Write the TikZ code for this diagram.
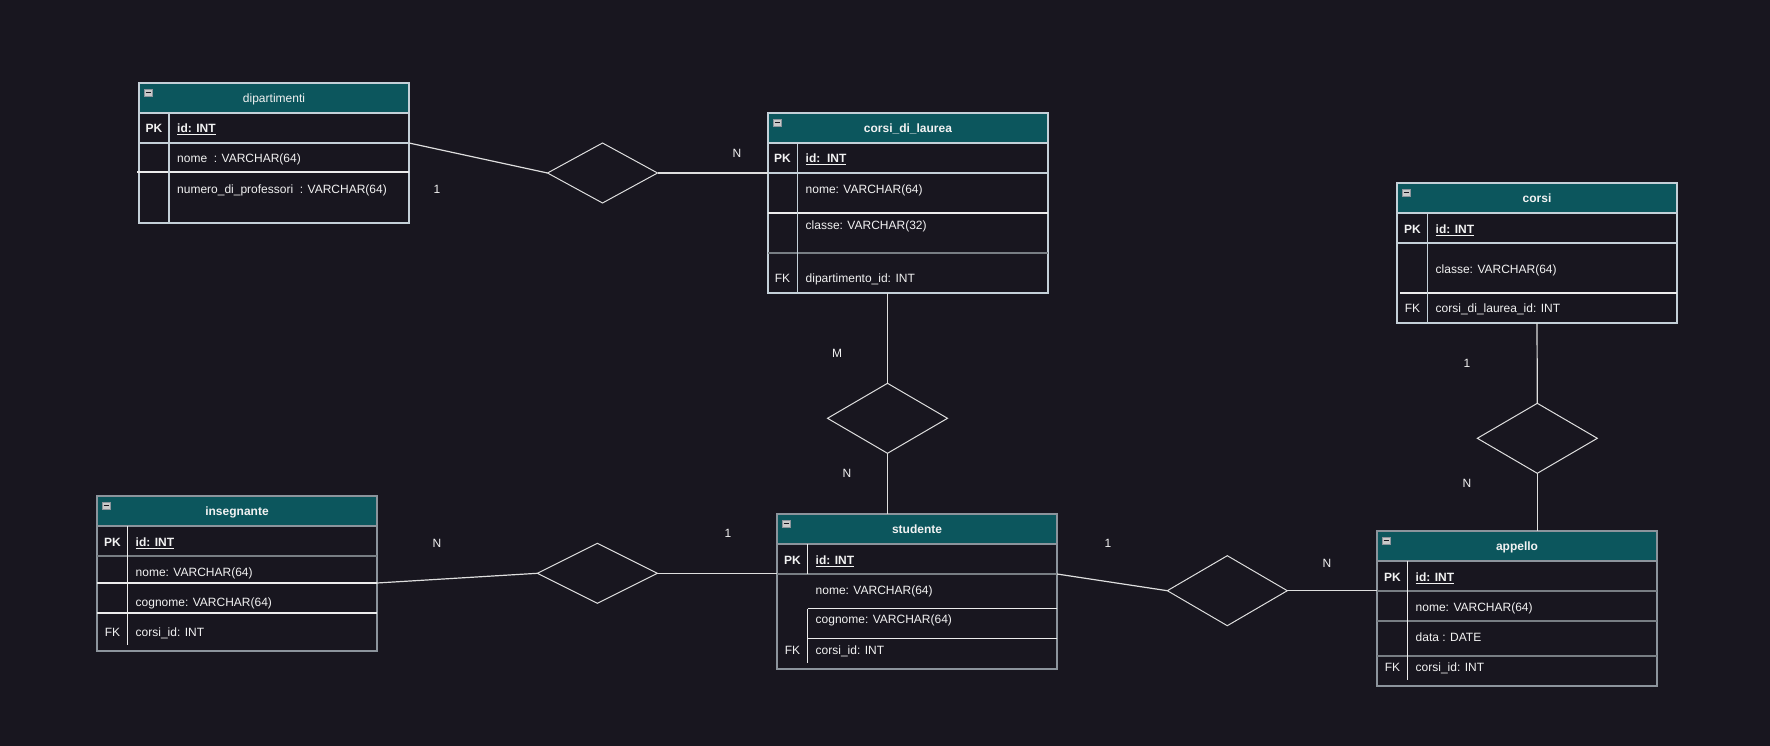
\documentclass[tikz,border=0pt]{standalone}
\usepackage{fontspec}
\setmainfont{Liberation Sans}
\usepackage{tikz}
\usetikzlibrary{calc,positioning,shapes.geometric}
\definecolor{erbg}{RGB}{24,22,31}
\definecolor{erteal}{RGB}{12,86,93}
\definecolor{eredge}{RGB}{196,208,216}
\definecolor{ergrid}{RGB}{140,148,156}
\definecolor{erwhite}{RGB}{236,236,236}
\definecolor{ergray}{RGB}{120,126,132}
\definecolor{erline}{RGB}{222,222,222}
\definecolor{ertext}{RGB}{242,242,242}

\begin{document}
\begin{tikzpicture}[x=1pt, y=-1pt,
      every node/.style={font=\fontsize{12}{14}\selectfont, text=ertext},
      hdr/.style={anchor=north west, minimum width=280pt, minimum height=30pt, inner sep=0pt, outer sep=0pt, fill=erteal, draw=eredge, line width=1.2pt, text height=8.6pt, text depth=0pt},
      tbl/.style={anchor=north west, minimum width=280pt, inner sep=0pt, outer sep=0pt, fill=erbg, draw=eredge, line width=1.2pt},
      key/.style={anchor=center, inner sep=0pt, text height=8.6pt, text depth=0pt},
      fld/.style={anchor=west, inner sep=0pt, text height=8.6pt, text depth=0pt},
      rel/.style={diamond, draw=erline, line width=1pt, minimum width=120pt, minimum height=70pt, inner sep=0pt, outer sep=0pt},
      link/.style={draw=erline, line width=1.2pt},
      sepl/.style={draw=eredge, line width=1.2pt},
      sepw/.style={draw=erwhite, line width=1.2pt},
      sepg/.style={draw=ergray, line width=2pt},
      mult/.style={inner sep=0pt, text height=8.6pt, text depth=0pt},
      iconbox/.style={fill=erwhite!85!black, draw=ergrid, line width=0.6pt},
      iconbar/.style={draw=erbg, line width=1.4pt}
    ]
      \fill[erbg] (0,0) rectangle (1770,746);
      \useasboundingbox (0,0) rectangle (1770,746);

      \node[hdr, minimum width=270pt] (dipH) at (139,83) {dipartimenti};
      \node[tbl, minimum width=270pt, minimum height=110pt] (dipB) at (dipH.south west) {};
      \draw[sepl] (139,143) -- (409,143);
      \draw[sepw] (137,172) -- (409,172);
      \draw[sepl] (169,113) -- (169,223);
      \node[key] (dipK1) at (154,128) {\textbf{PK}};
      \node[fld] (dipF1) at (177,128) {\underline{\textbf{id: INT}}};
      \node[fld] (dipF2) at (177,158) {nome\ \ : VARCHAR(64)};
      \node[fld] (dipF3) at (177,189) {numero\_di\_professori\ \ : VARCHAR(64)};

      \node[hdr] (cdlH) at (768,113) {\textbf{corsi\_di\_laurea}};
      \node[tbl, minimum height=150pt] (cdlB) at (cdlH.south west) {};
      \draw[sepl] (768,173) -- (1048,173);
      \draw[sepw] (768,213) -- (1048,213);
      \draw[sepg] (768,253) -- (1048,253);
      \draw[sepl] (797.5,143) -- (797.5,293);
      \node[key] (cdlK1) at (782.5,158) {\textbf{PK}};
      \node[fld] (cdlF1) at (805.5,158) {\underline{\textbf{id:\ \ INT}}};
      \node[fld] (cdlF2) at (805.5,189) {nome: VARCHAR(64)};
      \node[fld] (cdlF3) at (805.5,225.5) {classe: VARCHAR(32)};
      \node[key] (cdlK4) at (782.5,278) {FK};
      \node[fld] (cdlF4) at (805.5,278) {dipartimento\_id: INT};

      \node[hdr] (corH) at (1397,183) {\textbf{corsi}};
      \node[tbl, minimum height=110pt] (corB) at (corH.south west) {};
      \draw[sepl] (1397,243) -- (1677,243);
      \draw[sepw] (1400,293) -- (1677,293);
      \draw[sepl] (1427.5,213) -- (1427.5,323);
      \node[key] (corK1) at (1412.5,229) {\textbf{PK}};
      \node[fld] (corF1) at (1435.5,229) {\underline{\textbf{id: INT}}};
      \node[fld] (corF2) at (1435.5,269) {classe: VARCHAR(64)};
      \node[key] (corK3) at (1412.5,308) {FK};
      \node[fld] (corF3) at (1435.5,308) {corsi\_di\_laurea\_id: INT};

      \node[hdr, draw=ergrid] (insH) at (97,496) {\textbf{insegnante}};
      \node[tbl, draw=ergrid, minimum height=125pt] (insB) at (insH.south west) {};
      \draw[sepg] (97,556) -- (377,556);
      \draw[sepw] (97,583) -- (377,583);
      \draw[sepw] (97,613) -- (377,613);
      \draw[sepw] (127.5,526) -- (127.5,645);
      \node[key] (insK1) at (112.5,542) {\textbf{PK}};
      \node[fld] (insF1) at (135.5,542) {\underline{\textbf{id: INT}}};
      \node[fld] (insF2) at (135.5,572) {nome: VARCHAR(64)};
      \node[fld] (insF3) at (135.5,602) {cognome: VARCHAR(64)};
      \node[key] (insK4) at (112.5,632) {FK};
      \node[fld] (insF4) at (135.5,632) {corsi\_id: INT};

      \node[hdr, draw=ergrid] (stuH) at (777,514) {\textbf{studente}};
      \node[tbl, draw=ergrid, minimum height=125pt] (stuB) at (stuH.south west) {};
      \draw[sepg] (777,573.5) -- (1057,573.5);
      \draw[sepw] (807.5,608.5) -- (1057,608.5);
      \draw[sepw] (807.5,638.5) -- (1057,638.5);
      \draw[sepw] (807.5,544) -- (807.5,573.5);
      \draw[sepw] (807.5,608.5) -- (807.5,663);
      \node[key] (stuK1) at (792.5,560) {\textbf{PK}};
      \node[fld] (stuF1) at (815.5,560) {\underline{\textbf{id: INT}}};
      \node[fld] (stuF2) at (815.5,590) {nome: VARCHAR(64)};
      \node[fld] (stuF3) at (815.5,619.5) {cognome: VARCHAR(64)};
      \node[key] (stuK4) at (792.5,650) {FK};
      \node[fld] (stuF4) at (815.5,650) {corsi\_id: INT};

      \node[hdr, draw=ergrid] (appH) at (1377,531) {\textbf{appello}};
      \node[tbl, draw=ergrid, minimum height=125pt] (appB) at (appH.south west) {};
      \draw[sepg] (1377,591) -- (1657,591);
      \draw[sepg] (1377,621) -- (1657,621);
      \draw[sepg] (1377,656) -- (1657,656);
      \draw[sepw] (1407.5,561) -- (1407.5,680);
      \node[key] (appK1) at (1392.5,577) {\textbf{PK}};
      \node[fld] (appF1) at (1415.5,577) {\underline{\textbf{id: INT}}};
      \node[fld] (appF2) at (1415.5,607) {nome: VARCHAR(64)};
      \node[fld] (appF3) at (1415.5,637) {data : DATE};
      \node[key] (appK4) at (1392.5,667) {FK};
      \node[fld] (appF4) at (1415.5,667) {corsi\_id: INT};

      \foreach \t in {dipH,cdlH,corH,insH,stuH,appH} {
        \filldraw[iconbox] ([shift={(5,6)}]\t.north west) rectangle ++(8,7);
        \draw[iconbar] ([shift={(6.5,9.5)}]\t.north west) -- ++(5,0);
      }

      \node[rel, minimum width=110pt, minimum height=60pt] (rDipCdl) at (602.5,173) {};
      \node[rel] (rCdlStu) at (887.5,418.3) {};
      \node[rel, minimum height=60pt] (rInsStu) at (597.3,573.3) {};
      \node[rel] (rStuApp) at (1227.3,590.7) {};
      \node[rel] (rCorApp) at (1537.3,438.3) {};

      \draw[link] ([yshift=-30pt]dipB.north east) -- (rDipCdl.west);
      \draw[link] (rDipCdl.east) -- ([yshift=-30pt]cdlB.north west);
      \draw[link] (cdlB.south -| rCdlStu.north) -- (rCdlStu.north);
      \draw[link] (rCdlStu.south) -- (rCdlStu.south |- stuH.north);
      \draw[link] ([yshift=-57pt]insB.north east) -- (rInsStu.west);
      \draw[link] (rInsStu.east) -- (rInsStu.east -| stuB.west);
      \draw[link] ([yshift=-30pt]stuB.north east) -- (rStuApp.west);
      \draw[link] (rStuApp.east) -- (rStuApp.east -| appB.west);
      \draw[link] (corB.south) -- (rCorApp.north);
      \draw[link] (rCorApp.south) -- (rCorApp.south |- appH.north);

      \node[mult] (mDip) at (437,189) {1};
      \node[mult] (mCdlA) at (737,153) {N};
      \node[mult] (mCdlB) at (837,353) {M};
      \node[mult] (mStuA) at (847,473) {N};
      \node[mult] (mIns) at (437,543) {N};
      \node[mult] (mStuB) at (728,533) {1};
      \node[mult] (mStuC) at (1108,543) {1};
      \node[mult] (mAppA) at (1327,563) {N};
      \node[mult] (mCor) at (1467,363) {1};
      \node[mult] (mAppB) at (1467,483) {N};
    \end{tikzpicture}
\end{document}
